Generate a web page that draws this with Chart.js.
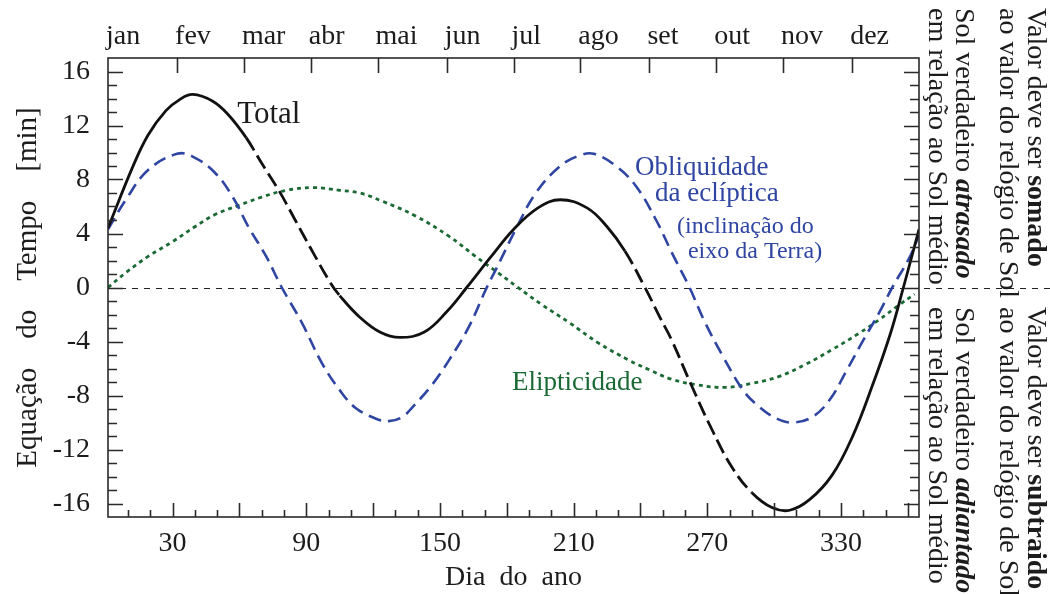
<!DOCTYPE html>
<html>
<head>
<meta charset="utf-8">
<script src="https://cdn.jsdelivr.net/npm/chart.js@4.4.0/dist/chart.umd.min.js"></script>
<style>
  html, body { margin: 0; padding: 0; background: #fff; }
  #wrap { width: 1050px; height: 594px; }
</style>
</head>
<body>
<div id="wrap"><canvas id="eqChart" width="1050" height="594"></canvas></div>
<script>
// valores (dia do ano, minutos)
var totalDays   = [1, 12, 19, 27, 33, 39, 48, 55, 63, 70, 78, 85, 93, 101, 105, 114, 123, 132, 143, 153, 162, 173, 183, 194, 204, 216, 225, 233, 242, 249, 254, 263, 272, 281, 290, 299, 307, 316, 326, 335, 344, 352, 358, 365];
var totalValues = [4.4, 8.9, 11.3, 13.1, 13.9, 14.3, 13.8, 12.8, 11.1, 9.2, 7.1, 5.0, 2.6, 0.3, -0.6, -2.2, -3.3, -3.7, -3.3, -1.8, 0.0, 2.3, 4.3, 5.9, 6.5, 5.9, 4.5, 2.7, 0.0, -2.3, -3.9, -7.3, -10.5, -13.3, -15.2, -16.3, -16.5, -15.7, -13.9, -11.1, -7.3, -3.5, 0.0, 4.3];

var obliqDays   = [1, 9, 19, 32, 39, 49, 57, 64, 72, 79, 88, 97, 105, 112, 121, 127, 133, 138, 146, 154, 163, 171, 175, 184, 193, 204, 213, 219, 229, 238, 247, 254, 262, 269, 277, 286, 293, 301, 308, 317, 325, 332, 340, 347, 353, 361, 365];
var obliqValues = [4.3, 6.5, 8.7, 9.9, 9.7, 8.5, 6.7, 4.5, 2.3, 0.0, -2.6, -5.6, -7.6, -8.9, -9.7, -9.9, -9.6, -8.8, -7.3, -5.4, -2.9, 0.0, 1.3, 4.3, 7.0, 9.0, 9.8, 9.9, 9.0, 7.5, 5.0, 2.6, 0.0, -2.6, -5.1, -7.6, -8.8, -9.7, -10.0, -9.6, -8.3, -6.3, -3.9, -1.9, 0.0, 2.3, 3.9];

var ellipDays   = [1, 9, 19, 30, 40, 49, 60, 70, 81, 93, 105, 114, 124, 139, 154, 166, 176, 185, 196, 208, 221, 235, 244, 254, 265, 278, 290, 302, 314, 326, 338, 347, 356, 363];
var ellipValues = [0.0, 1.1, 2.3, 3.4, 4.5, 5.4, 6.1, 6.7, 7.2, 7.4, 7.2, 7.0, 6.4, 5.3, 3.8, 2.3, 1.1, 0.0, -1.3, -2.6, -4.1, -5.4, -6.1, -6.8, -7.2, -7.4, -7.1, -6.6, -5.7, -4.6, -3.4, -2.4, -1.3, -0.5];

// trechos da curva total desenhados tracejados
var totalDashedRanges = [[63, 105], [233, 290]];

var monthLabels    = ['jan', 'fev', 'mar', 'abr', 'mai', 'jun', 'jul', 'ago', 'set', 'out', 'nov', 'dez'];
var monthStartDays = [1, 32, 62, 92, 122, 153, 183, 213, 244, 274, 304, 335];
var dayTicks       = [30, 90, 150, 210, 270, 330];
var minuteTicks    = [-16, -12, -8, -4, 0, 4, 8, 12, 16];

var SERIF = "'Liberation Serif', 'Times New Roman', serif";
var INK = '#1c1c1c';
var BLUE = '#2f45a2';
var GREEN = '#1b6a34';

function toPoints(days, vals) {
  return days.map(function(d, i) { return {x: d, y: vals[i]}; });
}

function inDashed(x) {
  for (var i = 0; i < totalDashedRanges.length; i++) {
    if (x >= totalDashedRanges[i][0] && x < totalDashedRanges[i][1]) return true;
  }
  return false;
}

// caixa, marcas internas e linha do zero
var framePlugin = {
  id: 'frameTicks',
  beforeDatasetsDraw: function(chart) {
    var ctx = chart.ctx, a = chart.chartArea, y = chart.scales.y;
    var py = Math.round(y.getPixelForValue(0)) + 0.5;
    ctx.save();
    ctx.strokeStyle = '#222';
    ctx.lineWidth = 1;
    ctx.setLineDash([6, 6]);
    ctx.beginPath();
    ctx.moveTo(a.left, py);
    ctx.lineTo(chart.width, py);
    ctx.stroke();
    ctx.restore();
  },
  afterDatasetsDraw: function(chart) {
    var ctx = chart.ctx, a = chart.chartArea;
    var x = chart.scales.x, y = chart.scales.y, xt = chart.scales.xTop;
    ctx.save();
    ctx.strokeStyle = '#2a2a2a';
    ctx.lineWidth = 1.6;
    ctx.strokeRect(a.left, a.top, a.right - a.left, a.bottom - a.top);
    ctx.beginPath();
    for (var v = -16; v <= 16; v++) {
      var py = Math.round(y.getPixelForValue(v)) + 0.5;
      var len = (v % 4 === 0) ? 15 : 9;
      ctx.moveTo(a.left, py); ctx.lineTo(a.left + len, py);
      ctx.moveTo(a.right, py); ctx.lineTo(a.right - len, py);
    }
    for (var d = 10; d <= 360; d += 10) {
      var px = Math.round(x.getPixelForValue(d)) + 0.5;
      var l2 = (d % 30 === 0) ? 14 : 7;
      ctx.moveTo(px, a.bottom); ctx.lineTo(px, a.bottom - l2);
    }
    for (var m = 1; m < monthStartDays.length; m++) {
      var mx = Math.round(xt.getPixelForValue(monthStartDays[m])) + 0.5;
      ctx.moveTo(mx, a.top); ctx.lineTo(mx, a.top + 15);
    }
    ctx.stroke();
    ctx.restore();
  }
};

// textos dentro do grafico
var notes = [
  {text: 'Total', x: 59, y: 12.2, size: 31, color: INK},
  {text: 'Obliquidade', x: 237.5, y: 8.35, size: 27, color: BLUE},
  {text: 'da eclíptica', x: 246.5, y: 6.4, size: 27, color: BLUE},
  {text: '(inclinação do', x: 256.4, y: 4.05, size: 24, color: BLUE},
  {text: 'eixo da Terra)', x: 261.3, y: 2.2, size: 24, color: BLUE},
  {text: 'Elipticidade', x: 182.3, y: -7.58, size: 27, color: GREEN}
];

// textos verticais a direita
var sideTop = [
  {x: 1028, runs: [['Valor deve ser ', ''], ['somado', 'bold ']]},
  {x: 1000, runs: [['ao valor do relógio de Sol', '']]},
  {x: 956,  runs: [['Sol verdadeiro ', ''], ['atrasado', 'italic bold ']]},
  {x: 929,  runs: [['em relação ao Sol médio', '']]}
];
var sideBottom = [
  {x: 1028, runs: [['Valor deve ser ', ''], ['subtraido', 'bold ']]},
  {x: 1000, runs: [['ao valor do relógio de Sol', '']]},
  {x: 956,  runs: [['Sol verdadeiro ', ''], ['adiantado', 'italic bold ']]},
  {x: 929,  runs: [['em relação ao Sol médio', '']]}
];

function drawSide(ctx, cols, y0) {
  cols.forEach(function(c) {
    ctx.save();
    ctx.translate(c.x, y0);
    ctx.rotate(Math.PI / 2);
    var off = 0;
    c.runs.forEach(function(r) {
      ctx.font = r[1] + '28px ' + SERIF;
      ctx.fillText(r[0], off, 0);
      off += ctx.measureText(r[0]).width;
    });
    ctx.restore();
  });
}

var textPlugin = {
  id: 'texts',
  afterDraw: function(chart) {
    var ctx = chart.ctx, x = chart.scales.x, y = chart.scales.y;
    ctx.save();
    ctx.textBaseline = 'alphabetic';
    ctx.textAlign = 'left';
    notes.forEach(function(n) {
      ctx.font = n.size + 'px ' + SERIF;
      ctx.fillStyle = n.color;
      ctx.fillText(n.text, x.getPixelForValue(n.x), y.getPixelForValue(n.y));
    });
    ctx.fillStyle = INK;
    drawSide(ctx, sideTop, 8);
    drawSide(ctx, sideBottom, 307);
    ctx.restore();
  }
};

Chart.defaults.font.family = SERIF;
Chart.defaults.color = INK;

var ctx = document.getElementById('eqChart').getContext('2d');

var config = {
  type: 'line',
  data: {
    datasets: [{
      label: 'Total',
      data: toPoints(totalDays, totalValues),
      borderColor: '#111',
      borderWidth: 2.8,
      pointRadius: 0,
      tension: 0.4,
      segment: {
        borderDash: function(c) { return inDashed(c.p0.parsed.x) ? [15, 6] : undefined; }
      }
    }, {
      label: 'Obliquidade da eclíptica',
      data: toPoints(obliqDays, obliqValues),
      borderColor: BLUE,
      borderWidth: 2.6,
      borderDash: [13, 7],
      pointRadius: 0,
      tension: 0.4
    }, {
      label: 'Elipticidade',
      data: toPoints(ellipDays, ellipValues),
      borderColor: GREEN,
      borderWidth: 2.8,
      borderDash: [4, 4],
      pointRadius: 0,
      tension: 0.4
    }]
  },
  options: {
    responsive: false,
    animation: false,
    devicePixelRatio: 1,
    layout: { padding: { left: 0, top: 0, right: 131, bottom: 0 } },
    plugins: {
      legend: { display: false },
      tooltip: { enabled: false }
    },
    scales: {
      x: {
        type: 'linear',
        position: 'bottom',
        min: 1,
        max: 365,
        afterBuildTicks: function(s) { s.ticks = dayTicks.map(function(v) { return {value: v}; }); },
        afterFit: function(s) { s.height = 77; },
        grid: { display: false, drawTicks: false },
        border: { display: false },
        ticks: { font: { size: 28 }, color: INK, padding: 10, maxRotation: 0, autoSkip: false },
        title: { display: true, text: 'Dia  do  ano', font: { size: 28 }, color: INK, padding: { top: 0, bottom: 0 } }
      },
      xTop: {
        type: 'linear',
        position: 'top',
        min: 1,
        max: 365,
        afterBuildTicks: function(s) { s.ticks = monthStartDays.map(function(v) { return {value: v}; }); },
        afterFit: function(s) { s.height = 58; },
        grid: { display: false, drawTicks: false },
        border: { display: false },
        ticks: {
          font: { size: 28 }, color: INK, padding: 5, maxRotation: 0, autoSkip: false,
          align: 'start', labelOffset: -2,
          callback: function(v, i) { return monthLabels[i]; }
        }
      },
      y: {
        type: 'linear',
        position: 'left',
        min: -17,
        max: 17,
        afterBuildTicks: function(s) { s.ticks = minuteTicks.map(function(v) { return {value: v}; }); },
        afterFit: function(s) { s.width = 108; },
        grid: { display: false, drawTicks: false },
        border: { display: false },
        ticks: { font: { size: 28 }, color: INK, padding: 18, autoSkip: false },
        title: { display: true, text: 'Equação    do    Tempo    [min]', font: { size: 29 }, color: INK, padding: { top: 11, bottom: 0 } }
      }
    }
  },
  plugins: [framePlugin, textPlugin]
};

var eqChart = new Chart(ctx, config);
</script>
</body>
</html>
